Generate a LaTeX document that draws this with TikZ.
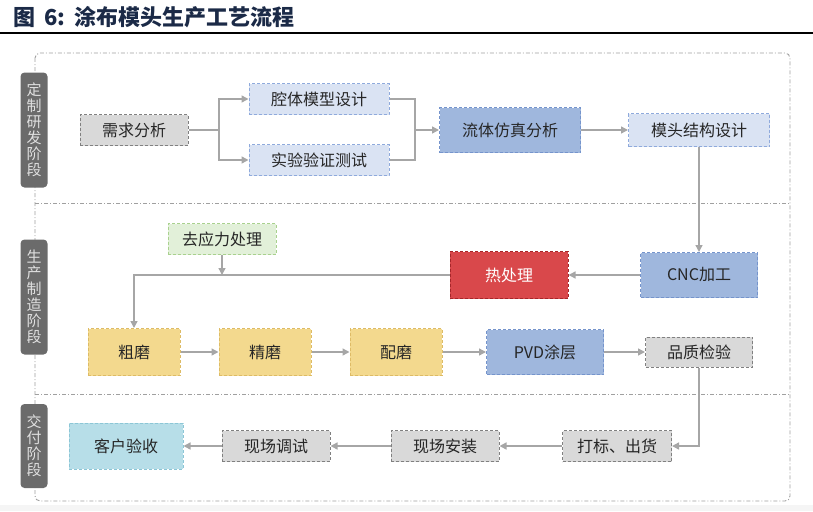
\documentclass[tikz,border=0pt]{standalone}
\usepackage{fontspec}
\newfontfamily\cjk{Noto Sans CJK SC}
\usepackage{tikz}
\usetikzlibrary{arrows.meta}
\definecolor{linegray}{HTML}{A6A6A6}
\definecolor{framegray}{HTML}{A0A0A0}
\definecolor{stagegray}{HTML}{6B6B6B}
\definecolor{boxgray}{HTML}{D9D9D9}
\definecolor{edgegray}{HTML}{808080}
\definecolor{paleblue}{HTML}{DAE3F3}
\definecolor{paleblueedge}{HTML}{8FAADC}
\definecolor{midblue}{HTML}{9FB7DD}
\definecolor{midblueedge}{HTML}{7594CC}
\definecolor{heatred}{HTML}{D9484B}
\definecolor{heatrededge}{HTML}{A5262A}
\definecolor{grindyellow}{HTML}{F3D98E}
\definecolor{grindedge}{HTML}{DDBB66}
\definecolor{relieffill}{HTML}{E2F0D9}
\definecolor{reliefedge}{HTML}{A9D18E}
\definecolor{checkcyan}{HTML}{B7DEE8}
\definecolor{checkcyanedge}{HTML}{8CC6D6}
\definecolor{titleblue}{HTML}{1B2A47}

\begin{document}
\begin{tikzpicture}[x=1pt,y=-1pt,
  font=\cjk\fontsize{16}{18}\selectfont,
  stepbox/.style={draw,line width=1pt,dash pattern=on 3pt off 2pt,
    inner sep=0pt,minimum width=108pt,minimum height=31pt,text=black!85},
  grayst/.style={stepbox,fill=boxgray,draw=edgegray},
  palest/.style={stepbox,fill=paleblue,draw=paleblueedge,minimum width=140pt},
  bluest/.style={stepbox,fill=midblue,draw=midblueedge,minimum width=117pt,minimum height=45pt},
  grindst/.style={stepbox,fill=grindyellow,draw=grindedge,minimum width=92pt,minimum height=47pt},
  stagelabel/.style={fill=stagegray,rounded corners=4pt,text=black!12,
    inner sep=0pt,minimum width=27pt,align=center,
    font=\cjk\fontsize{15}{16}\selectfont},
  sepline/.style={draw=framegray,line width=0.9pt,dash pattern=on 4pt off 2pt on 1pt off 2pt},
  link/.style={draw=linegray,line width=1.4pt},
  flow/.style={link,-{Triangle[length=7pt,width=7pt]}}
]
\useasboundingbox (0,0) rectangle (813,511);
\fill[black!4] (0,505) rectangle (813,511);

% title
\node[anchor=west,text=titleblue,font=\cjk\bfseries\fontsize{22}{24}\selectfont] (title) at (10,17) {图\hspace{9pt}6:\hspace{9pt}涂布模头生产工艺流程};
\draw[line width=1.2pt] (0,33) -- (813,33);

% frame and stages
\draw[sepline,rounded corners=5pt] (35,53) rectangle (790,501);
\draw[sepline] (35,203) -- (790,203);
\draw[sepline] (35,394) -- (790,394);
\node[stagelabel,minimum height=115pt] (stagea) at (34,130) {定\\制\\研\\发\\阶\\段};
\node[stagelabel,minimum height=115pt] (stageb) at (34,297) {生\\产\\制\\造\\阶\\段};
\node[stagelabel,minimum height=84pt] (stagec) at (34,446) {交\\付\\阶\\段};

% design stage
\node[grayst] (need) at (134,130) {需求分析};
\node[palest] (cavity) at (319,99) {腔体模型设计};
\node[palest] (test) at (319,160) {实验验证测试};
\node[bluest,minimum width=141pt] (cfd) at (510,130) {流体仿真分析};
\node[palest,minimum width=141pt,minimum height=33pt] (struct) at (699,130) {模头结构设计};

% production stage
\node[bluest] (cnc) at (699,275) {CNC加工};
\node[stepbox,fill=heatred,draw=heatrededge,minimum width=118pt,minimum height=47pt,text=white] (heat) at (509,275) {热处理};
\node[stepbox,fill=relieffill,draw=reliefedge] (relief) at (222,239) {去应力处理};
\node[grindst] (rough) at (134,352) {粗磨};
\node[grindst] (fine) at (265,352) {精磨};
\node[grindst] (match) at (396,352) {配磨};
\node[bluest] (pvd) at (545,352) {PVD涂层};
\node[grayst,minimum width=107pt,minimum height=30pt] (qc) at (699,352) {品质检验};

% delivery stage
\node[grayst,minimum width=109pt] (ship) at (617,446) {打标、出货};
\node[grayst] (install) at (445,446) {现场安装};
\node[grayst] (debug) at (276,446) {现场调试};
\node[stepbox,fill=checkcyan,draw=checkcyanedge,minimum width=114pt,minimum height=46pt] (accept) at (126,446) {客户验收};

% connectors
\coordinate (split) at (219,130);
\coordinate (merge) at (415,130);
\draw[link] (need.east) -- (split);
\draw[flow] (split) |- (cavity.west);
\draw[flow] (split) |- (test.west);
\draw[link] (cavity.east) -| (merge);
\draw[link] (test.east) -| (merge);
\draw[flow] (merge) -- (cfd.west);
\draw[flow] (cfd.east) -- (struct.west);
\draw[flow] (struct.south) -- (cnc.north);
\draw[flow] (cnc.west) -- (heat.east);
\draw[flow] (heat.west) -| (rough.north);
\draw[flow] (relief.south) -- (relief.south |- heat.west);
\draw[flow] (rough.east) -- (fine.west);
\draw[flow] (fine.east) -- (match.west);
\draw[flow] (match.east) -- (pvd.west);
\draw[flow] (pvd.east) -- (qc.west);
\draw[flow] (qc.south) |- (ship.east);
\draw[flow] (ship.west) -- (install.east);
\draw[flow] (install.west) -- (debug.east);
\draw[flow] (debug.west) -- (accept.east);
\end{tikzpicture}
\end{document}
